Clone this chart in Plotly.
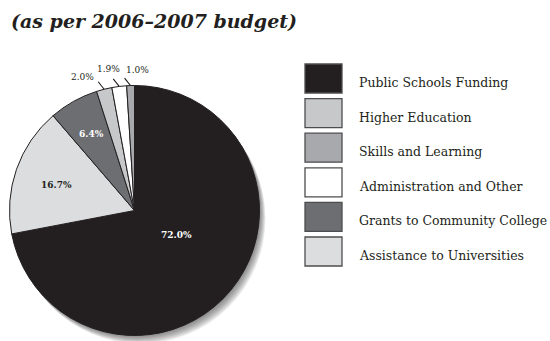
import math
import plotly.graph_objects as go

# Budget shares, in legend order
categories = [
    "Public Schools Funding",
    "Higher Education",
    "Skills and Learning",
    "Administration and Other",
    "Grants to Community College",
    "Assistance to Universities",
]
shares = [72.0, 2.0, 1.0, 1.9, 6.4, 16.7]
colors = ["#231f20", "#c7c8ca", "#a7a9ac", "#ffffff", "#6d6e71", "#dcdddf"]
# order of the slices clockwise from 12 o'clock (indices into the lists above)
pie_order = [0, 5, 4, 1, 3, 2]

W, H = 550, 341
CX, CY, R = 134.5, 210.5, 125.0


def px(x):
    return x / W


def py(y):
    return 1 - y / H


fig = go.Figure()

# soft drop shadow behind the pie
shapes = []
for k in range(1, 12):
    ox, oy = 0.55 * k, 0.75 * k
    shapes.append(dict(
        type="circle", xref="paper", yref="paper", layer="below",
        x0=px(CX - R + ox), x1=px(CX + R + ox),
        y0=py(CY + R + oy), y1=py(CY - R + oy),
        fillcolor="rgba(60,60,60,0.07)", line=dict(width=0),
    ))

pie_labels = [categories[i] for i in pie_order]
pie_values = [shares[i] for i in pie_order]
pie_colors = [colors[i] for i in pie_order]

fig.add_trace(go.Pie(
    labels=pie_labels, values=pie_values, sort=False, direction="clockwise",
    rotation=0, textinfo="none", hoverinfo="label+percent",
    marker=dict(colors=pie_colors, line=dict(color="#231f20", width=1)),
    domain=dict(x=[px(CX - R), px(CX + R)], y=[py(CY + R), py(CY - R)]),
))

# percentage labels placed along each slice's bisector
inside_style = {  # category index -> (radius fraction, angle nudge deg, text colour)
    0: (0.38, -11.0, "#ffffff"),
    5: (0.66, 0.0, "#231f20"),
    4: (0.71, 0.0, "#ffffff"),
}
outside_offset = {  # category index -> label offset from slice edge (px)
    1: (-22, -12),
    3: (-11, -17),
    2: (6.5, -16),
}
annotations = []
total = sum(pie_values)
cum = 0.0
for idx, v in zip(pie_order, pie_values):
    mid = (cum + v / 2) / total * 2 * math.pi
    cum += v
    text = f"{v:.1f}%"
    if idx in inside_style:
        rf, nudge, col = inside_style[idx]
        a = mid + math.radians(nudge)
        x, y = CX + rf * R * math.sin(a), CY - rf * R * math.cos(a)
        annotations.append(dict(
            x=px(x), y=py(y + 1.5), xref="paper", yref="paper", text=f"<b>{text}</b>",
            xanchor="center", yanchor="middle", showarrow=False,
            font=dict(family="DejaVu Serif", size=9, color=col),
        ))
    else:
        ex, ey = CX + R * math.sin(mid), CY - R * math.cos(mid)
        dx, dy = outside_offset[idx]
        shapes.append(dict(
            type="line", xref="paper", yref="paper",
            x0=px(ex), y0=py(ey), x1=px(ex - 6), y1=py(ey - 7.5),
            line=dict(color="#231f20", width=1.1),
        ))
        annotations.append(dict(
            x=px(ex + dx), y=py(ey + dy), xref="paper", yref="paper", text=text,
            xanchor="center", yanchor="middle", showarrow=False,
            font=dict(family="DejaVu Serif", size=9, color="#231f20"),
        ))

# legend: swatches and labels
BOX_X0, BOX_X1, BOX_TOP, BOX_H, STEP = 305, 342, 64, 29, 34.6
for i, (name, col) in enumerate(zip(categories, colors)):
    top = BOX_TOP + i * STEP
    shapes.append(dict(
        type="rect", xref="paper", yref="paper",
        x0=px(BOX_X0), x1=px(BOX_X1), y0=py(top + BOX_H), y1=py(top),
        fillcolor=col, line=dict(color="#4d4d4f", width=1.3),
    ))
    annotations.append(dict(
        x=px(357), y=py(top + BOX_H / 2 + 4), xref="paper", yref="paper",
        xanchor="left", yanchor="middle", text=name, showarrow=False,
        font=dict(family="DejaVu Serif", size=12.5, color="#231f20"),
    ))

# subtitle
annotations.append(dict(
    x=px(9), y=py(34), xref="paper", yref="paper", xanchor="left", yanchor="bottom",
    text="<b><i>(as per 2006–2007 budget)</i></b>", showarrow=False,
    font=dict(family="DejaVu Serif", size=19, color="#231f20"),
))

fig.update_layout(
    width=W, height=H, margin=dict(l=0, r=0, t=0, b=0),
    paper_bgcolor="white", plot_bgcolor="white", showlegend=False,
    shapes=shapes, annotations=annotations,
)

fig.write_html("out.html")
